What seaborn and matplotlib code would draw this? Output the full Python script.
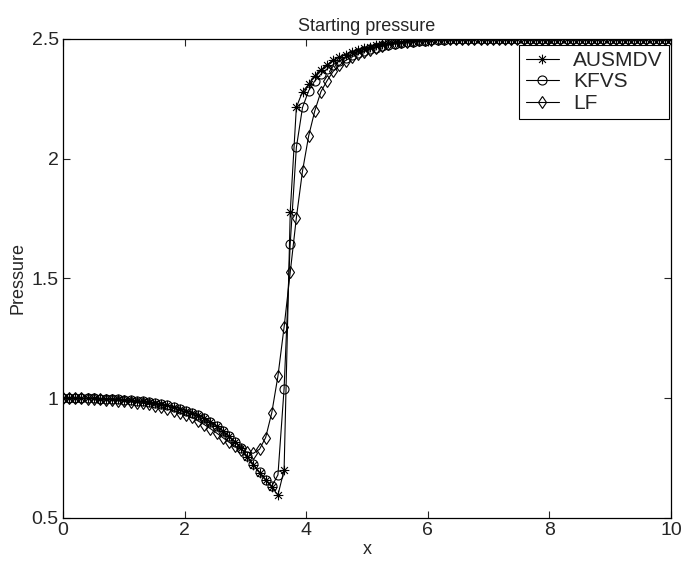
import numpy as np
import pandas as pd
import matplotlib
matplotlib.use("Agg")
import matplotlib.pyplot as plt
from matplotlib.path import Path
import seaborn as sns

# Grid: 100 equally spaced nodes on [0, 10]
x = np.linspace(0, 10, 100)

ausmdv = [
    1.000, 1.000, 1.000, 1.000, 0.999, 0.999, 0.998, 0.997, 0.996, 0.995,
    0.993, 0.991, 0.989, 0.987, 0.984, 0.980, 0.976, 0.971, 0.965, 0.957,
    0.948, 0.940, 0.930, 0.917, 0.902, 0.884, 0.864, 0.842, 0.818, 0.791,
    0.755, 0.722, 0.689, 0.658, 0.628, 0.596, 0.700, 1.777, 2.215, 2.280,
    2.310, 2.345, 2.370, 2.392, 2.412, 2.424, 2.435, 2.445, 2.453, 2.461,
    2.467, 2.473, 2.478, 2.482, 2.486, 2.489, 2.491, 2.493, 2.495, 2.496,
    2.497, 2.498, 2.499, 2.500, 2.500, 2.500, 2.500, 2.500, 2.500, 2.500,
    2.500, 2.500, 2.500, 2.500, 2.500, 2.500, 2.500, 2.500, 2.500, 2.500,
    2.500, 2.500, 2.500, 2.500, 2.500, 2.500, 2.500, 2.500, 2.500, 2.500,
    2.500, 2.500, 2.500, 2.500, 2.500, 2.500, 2.500, 2.500, 2.500, 2.500,
]

kfvs = [
    1.000, 1.000, 1.000, 1.000, 0.999, 0.999, 0.998, 0.997, 0.996, 0.995,
    0.993, 0.991, 0.989, 0.987, 0.984, 0.980, 0.976, 0.971, 0.965, 0.957,
    0.948, 0.940, 0.930, 0.917, 0.902, 0.884, 0.864, 0.842, 0.818, 0.791,
    0.757, 0.724, 0.691, 0.660, 0.633, 0.680, 1.040, 1.646, 2.047, 2.214,
    2.284, 2.325, 2.353, 2.375, 2.393, 2.408, 2.421, 2.432, 2.442, 2.450,
    2.458, 2.464, 2.470, 2.475, 2.479, 2.483, 2.486, 2.489, 2.491, 2.493,
    2.495, 2.496, 2.497, 2.498, 2.499, 2.500, 2.500, 2.500, 2.500, 2.500,
    2.500, 2.500, 2.500, 2.500, 2.500, 2.500, 2.500, 2.500, 2.500, 2.500,
    2.500, 2.500, 2.500, 2.500, 2.500, 2.500, 2.500, 2.500, 2.500, 2.500,
    2.500, 2.500, 2.500, 2.500, 2.500, 2.500, 2.500, 2.500, 2.500, 2.500,
]

lf = [
    1.000, 1.000, 0.999, 0.999, 0.998, 0.997, 0.996, 0.994, 0.992, 0.990,
    0.988, 0.985, 0.982, 0.979, 0.974, 0.968, 0.962, 0.955, 0.948, 0.940,
    0.930, 0.920, 0.905, 0.890, 0.873, 0.855, 0.836, 0.817, 0.800, 0.785,
    0.774, 0.770, 0.787, 0.836, 0.940, 1.093, 1.297, 1.526, 1.754, 1.949,
    2.095, 2.200, 2.280, 2.326, 2.365, 2.390, 2.410, 2.425, 2.437, 2.447,
    2.456, 2.464, 2.471, 2.477, 2.482, 2.486, 2.489, 2.492, 2.494, 2.496,
    2.497, 2.498, 2.499, 2.500, 2.500, 2.500, 2.500, 2.500, 2.500, 2.500,
    2.500, 2.500, 2.500, 2.500, 2.500, 2.500, 2.500, 2.500, 2.500, 2.500,
    2.500, 2.500, 2.500, 2.500, 2.500, 2.500, 2.500, 2.500, 2.500, 2.500,
    2.500, 2.500, 2.500, 2.500, 2.500, 2.500, 2.500, 2.500, 2.500, 2.500,
]

methods = ["AUSMDV", "KFVS", "LF"]
x_ticks = [0, 2, 4, 6, 8, 10]
y_ticks = [0.5, 1, 1.5, 2, 2.5]
y_tick_labels = ["0.5", "1", "1.5", "2", "2.5"]

df = pd.DataFrame({
    "x": np.concatenate([x, x, x]),
    "Pressure": np.concatenate([ausmdv, kfvs, lf]),
    "method": np.repeat(methods, len(x)),
})

sns.set_style("ticks")
plt.rcParams["font.family"] = ["Liberation Sans", "DejaVu Sans"]
plt.rcParams["xtick.direction"] = "in"
plt.rcParams["ytick.direction"] = "in"

# Asterisk marker made of a plus and a cross
s = 0.7071
asterisk = Path(
    [(-1, 0), (1, 0), (0, -1), (0, 1), (-s, -s), (s, s), (-s, s), (s, -s)],
    [Path.MOVETO, Path.LINETO] * 4,
)
marker_for = {"AUSMDV": asterisk, "KFVS": "o", "LF": "d"}
size_for = {"AUSMDV": 7, "KFVS": 6.5, "LF": 6.5}

fig = plt.figure(figsize=(6.84, 5.64), dpi=100)
ax = fig.add_axes([0.0921, 0.0816, 0.8889, 0.8493])

for m in methods:
    sns.lineplot(
        data=df[df["method"] == m], x="x", y="Pressure", ax=ax,
        color="black", linewidth=0.8, marker=marker_for[m],
        markersize=size_for[m], markerfacecolor="none",
        markeredgecolor="black", markeredgewidth=0.8, label=m,
    )

ax.set_xlim(0, 10)
ax.set_ylim(0.5, 2.5)
ax.set_xticks(x_ticks)
ax.set_xticklabels([str(t) for t in x_ticks])
ax.set_yticks(y_ticks)
ax.set_yticklabels(y_tick_labels)
ax.tick_params(axis="both", which="both", labelsize=14, length=5,
               width=0.8, top=True, right=True, pad=3)
for sp in ax.spines.values():
    sp.set_linewidth(0.9)
    sp.set_color("black")

ax.set_title("Starting pressure", fontsize=13, pad=6)
ax.set_xlabel("x", fontsize=13, labelpad=1)
ax.set_ylabel("Pressure", fontsize=13, labelpad=4)

leg = ax.legend(loc="upper right", bbox_to_anchor=(0.997, 0.988),
                fontsize=15, frameon=True, fancybox=False,
                edgecolor="black", framealpha=1, handlelength=1.6,
                borderpad=0.3, labelspacing=0.12, handletextpad=0.7,
                borderaxespad=0.0)
leg.get_frame().set_linewidth(0.8)

fig.savefig("out.png", dpi=100)
